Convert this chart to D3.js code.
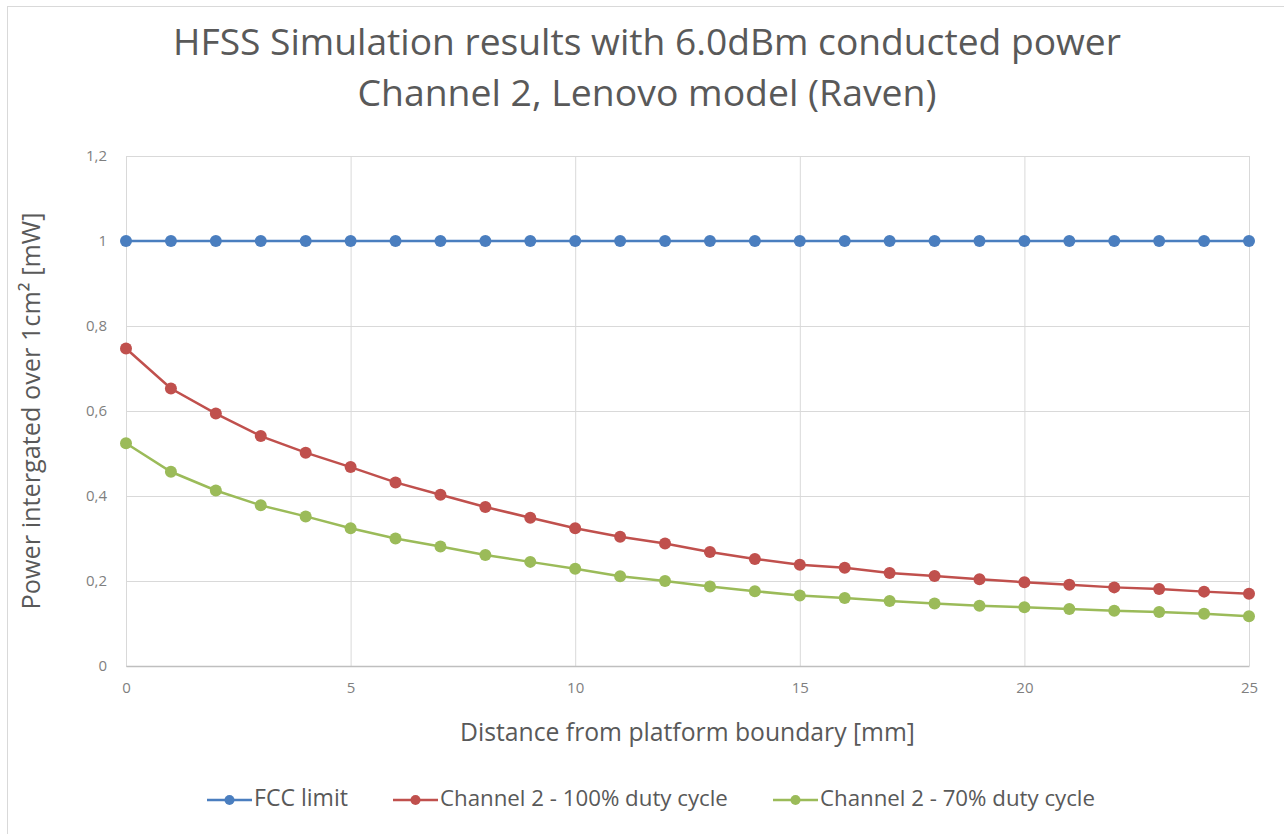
<!DOCTYPE html>
<html>
<head>
<meta charset="utf-8">
<script src="https://cdn.jsdelivr.net/npm/d3@7"></script>
<style>
  html, body { margin: 0; padding: 0; background: #ffffff; }
  svg { display: block; }
</style>
</head>
<body>
<div id="chart"></div>
<script>
const distances = [0,1,2,3,4,5,6,7,8,9,10,11,12,13,14,15,16,17,18,19,20,21,22,23,24,25];
const fccLimit = [1,1,1,1,1,1,1,1,1,1,1,1,1,1,1,1,1,1,1,1,1,1,1,1,1,1];
const channel2Full = [0.747,0.653,0.594,0.541,0.502,0.468,0.432,0.403,0.374,0.349,0.324,0.304,0.288,0.268,0.252,0.238,0.231,0.219,0.212,0.204,0.197,0.191,0.185,0.181,0.175,0.170];
const channel2Seventy = [0.524,0.457,0.413,0.378,0.352,0.324,0.300,0.281,0.261,0.245,0.229,0.211,0.200,0.187,0.176,0.166,0.160,0.153,0.147,0.142,0.138,0.134,0.130,0.127,0.123,0.117];
const seriesNames = ["FCC limit", "Channel 2 - 100% duty cycle", "Channel 2 - 70% duty cycle"];
const seriesColors = ["#4a7ebf", "#c0504d", "#9bbb59"];
const xTicks = [0,5,10,15,20,25];
const yTicks = [0,0.2,0.4,0.6,0.8,1,1.2];
const titleLines = ["HFSS Simulation results with 6.0dBm conducted power", "Channel 2, Lenovo model (Raven)"];
const xTitle = "Distance from platform boundary [mm]";
const yTitle = "Power intergated over 1cm\u00B2 [mW]";

const W = 1284, H = 834;
const plot = {left: 126, right: 1249, top: 156, bottom: 666};
const font = "'Open Sans', sans-serif";

// scale a text's font size so that it spans the given width
function fit(sel, width, base) {
  sel.style("font-size", base + "px");
  const w = sel.node().getComputedTextLength();
  sel.style("font-size", (base * width / w).toFixed(2) + "px");
  return sel;
}

const svg = d3.select("#chart").append("svg").attr("width", W).attr("height", H);
svg.append("rect").attr("width", W).attr("height", H).attr("fill", "#fff");
svg.append("rect").attr("x", 7.5).attr("y", 6.5).attr("width", W + 10).attr("height", H + 10)
  .attr("fill", "none").attr("stroke", "#d9d9d9").attr("stroke-width", 1);

const x = d3.scaleLinear().domain([0, 25]).range([plot.left, plot.right]);
const y = d3.scaleLinear().domain([0, 1.2]).range([plot.bottom, plot.top]);

// gridlines
const gx = svg.append("g").attr("transform", `translate(0,${plot.bottom})`)
  .call(d3.axisBottom(x).tickValues(xTicks).tickSize(-(plot.bottom - plot.top)).tickFormat(""));
gx.select(".domain").remove();
gx.selectAll("line").attr("stroke", "#d9d9d9");
const gy = svg.append("g").attr("transform", `translate(${plot.left},0)`)
  .call(d3.axisLeft(y).tickValues(yTicks).tickSize(-(plot.right - plot.left)).tickFormat(""));
gy.select(".domain").remove();
gy.selectAll("line").attr("stroke", "#d9d9d9");

// x axis
const xa = svg.append("g").attr("transform", `translate(0,${plot.bottom})`)
  .call(d3.axisBottom(x).tickValues(xTicks).tickSize(0).tickPadding(16).tickFormat(d3.format("d")));
xa.select(".domain").attr("stroke", "#bfbfbf").attr("stroke-width", 1.5);
xa.selectAll("text").attr("fill", "#7f7f7f").style("font-family", font).style("font-size", "15px");

// y axis labels
const ya = svg.append("g").attr("transform", `translate(${plot.left},0)`)
  .call(d3.axisLeft(y).tickValues(yTicks).tickSize(0).tickPadding(19)
    .tickFormat(d => String(d).replace(".", ",")));
ya.select(".domain").remove();
ya.selectAll("text").attr("fill", "#7f7f7f").style("font-family", font).style("font-size", "15px");

// series
const allSeries = [fccLimit, channel2Full, channel2Seventy];
const line = d3.line().x((d, i) => x(distances[i])).y(d => y(d));
allSeries.forEach((vals, si) => {
  svg.append("path").datum(vals).attr("d", line)
    .attr("fill", "none").attr("stroke", seriesColors[si]).attr("stroke-width", 2.5);
  svg.append("g").selectAll("circle").data(vals).join("circle")
    .attr("cx", (d, i) => x(distances[i])).attr("cy", d => y(d)).attr("r", 6)
    .attr("fill", seriesColors[si]);
});

// titles
const titleWidths = [948, 579];
titleLines.forEach((t, i) => {
  const el = svg.append("text").attr("x", 647).attr("y", 55 + i * 51)
    .attr("text-anchor", "middle").attr("fill", "#595959")
    .style("font-family", font).text(t);
  fit(el, titleWidths[i], 30);
});

fit(svg.append("text").attr("x", (plot.left + plot.right) / 2).attr("y", 741)
  .attr("text-anchor", "middle").attr("fill", "#595959")
  .style("font-family", font).text(xTitle), 455, 20);

fit(svg.append("text").attr("transform", `translate(40,${(plot.top + plot.bottom) / 2}) rotate(-90)`)
  .attr("text-anchor", "middle").attr("fill", "#595959")
  .style("font-family", font).text(yTitle), 397, 20);

// legend
const legendX = [207, 393, 773];
const legendWidths = [94, 288, 275];
seriesNames.forEach((name, i) => {
  const g = svg.append("g").attr("transform", `translate(${legendX[i]},800)`);
  g.append("line").attr("x1", 0).attr("x2", 45).attr("y1", 0).attr("y2", 0)
    .attr("stroke", seriesColors[i]).attr("stroke-width", 2.5);
  g.append("circle").attr("cx", 22.5).attr("cy", 0).attr("r", 5).attr("fill", seriesColors[i]);
  fit(g.append("text").attr("x", 47).attr("y", 6).attr("fill", "#595959")
    .style("font-family", font).text(name), legendWidths[i], 17);
});
</script>
</body>
</html>
